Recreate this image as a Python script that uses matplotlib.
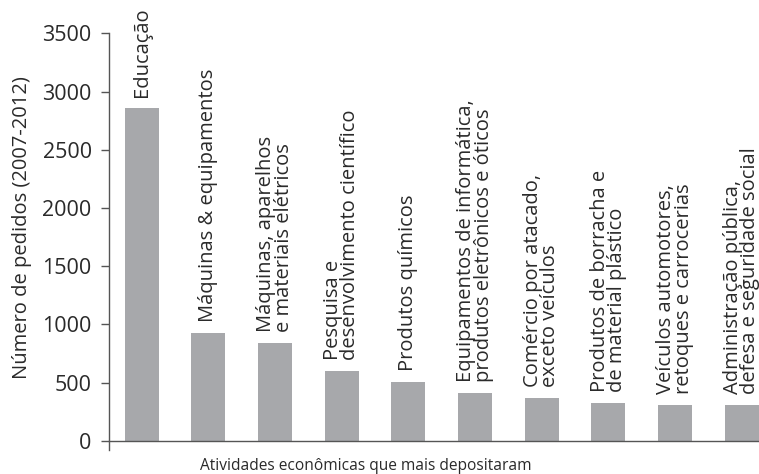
import matplotlib.pyplot as plt

# Pedidos por atividade econômica (2007-2012)
atividades = [
    "Educação",
    "Máquinas & equipamentos",
    "Máquinas, aparelhos\ne materiais elétricos",
    "Pesquisa e\ndesenvolvimento científico",
    "Produtos químicos",
    "Equipamentos de informática,\nprodutos eletrônicos e óticos",
    "Comércio por atacado,\nexceto veículos",
    "Produtos de borracha e\nde material plástico",
    "Veículos automotores,\nretoques e carrocerias",
    "Administração pública,\ndefesa e seguridade social",
]
pedidos = [2860, 925, 842, 596, 504, 407, 369, 324, 307, 307]
yticks = [0, 500, 1000, 1500, 2000, 2500, 3000, 3500]

cor_barra = "#a7a8ab"
cor_texto = "#2a2a2a"
cor_eixo = "#555555"

plt.rcParams["font.family"] = ["Open Sans", "DejaVu Sans"]

fig = plt.figure(figsize=(7.59, 4.74), dpi=100)
ax = fig.add_axes([0.1436, 0.0506, 0.8564, 0.8791])

x = range(len(atividades))
ax.bar(x, pedidos, width=0.51, color=cor_barra)

for i, (rotulo, valor) in enumerate(zip(atividades, pedidos)):
    ax.annotate(rotulo, (i, valor), xytext=(0, 8), textcoords="offset points",
                rotation=90, ha="center", va="bottom", multialignment="left",
                linespacing=0.82, fontsize=14.5, color=cor_texto)

ax.set_xlim(-0.49, 9.26)
ax.set_ylim(-80, 3500)
ax.set_yticks(yticks)
ax.set_xticks([])

ax.spines["top"].set_visible(False)
ax.spines["right"].set_visible(False)
ax.spines["bottom"].set_position(("data", 0))
ax.spines["left"].set_bounds(-80, 3500)
for lado in ["left", "bottom"]:
    ax.spines[lado].set_color(cor_eixo)
    ax.spines[lado].set_linewidth(1.0)

ax.tick_params(axis="y", length=5.5, width=1.0, color=cor_eixo,
               labelsize=15.5, labelcolor=cor_texto, pad=7)

ax.set_ylabel("Número de pedidos (2007-2012)", fontsize=14.5, color=cor_texto)
ax.yaxis.set_label_coords(-0.118, 0.535)

# rótulo do eixo x, um pouco à esquerda do centro
fig.text(365.5 / 759, 4 / 474, "Atividades econômicas que mais depositaram",
         ha="center", va="baseline", fontsize=11.2, color=cor_texto)

fig.savefig("out.png", dpi=100)
